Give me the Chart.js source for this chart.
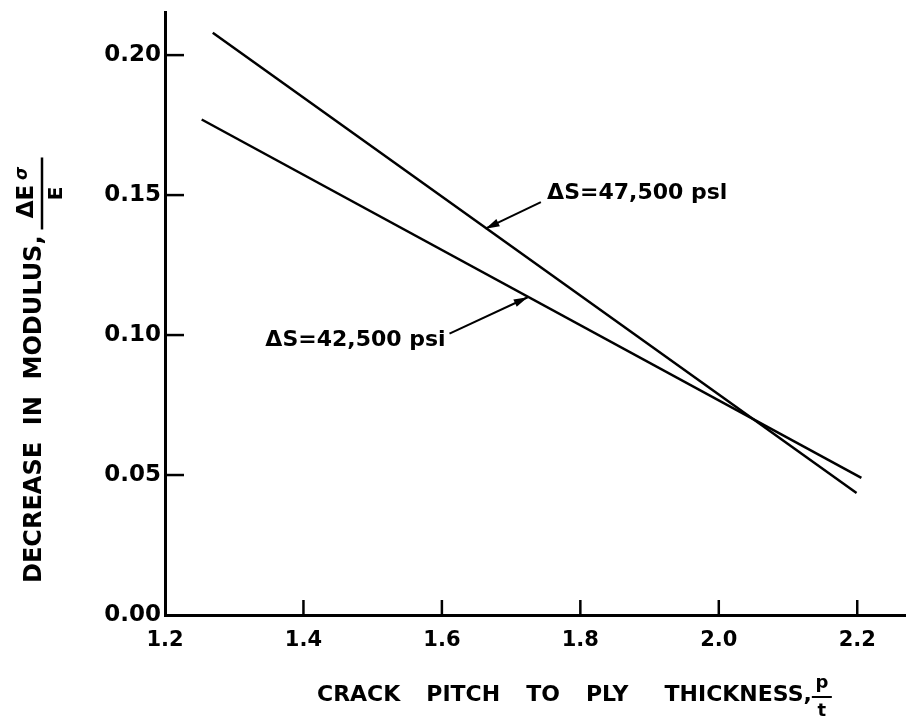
<!DOCTYPE html>
<html>
<head>
<meta charset="utf-8">
<script src="https://cdn.jsdelivr.net/npm/chart.js@4.4.1/dist/chart.umd.min.js"></script>
<style>
  html, body { margin: 0; padding: 0; background: #fff; }
  #wrap { width: 909px; height: 723px; }
</style>
</head>
<body>
<div id="wrap"><canvas id="chart"></canvas></div>
<script>
// values
const xTicks = [1.2, 1.4, 1.6, 1.8, 2.0, 2.2];
const yTicks = [0.00, 0.05, 0.10, 0.15, 0.20];
const xTickLabels = ["1.2", "1.4", "1.6", "1.8", "2.0", "2.2"];
const yTickLabels = ["0.00", "0.05", "0.10", "0.15", "0.20"];

const s47500 = [{ x: 1.269, y: 0.208 }, { x: 2.199, y: 0.0436 }];
const s42500 = [{ x: 1.253, y: 0.177 }, { x: 2.206, y: 0.049 }];

// annotation text + leader (data coordinates)
const notes = [
  { text: "\u0394S=47,500 psl", tx: 1.752, ty: 0.1505, from: [1.743, 0.1475], to: [1.663, 0.138] },
  { text: "\u0394S=42,500 psi", tx: 1.345, ty: 0.098, from: [1.611, 0.1005], to: [1.724, 0.1135] }
];
const xTitleWords = ["CRACK", "PITCH", "TO", "PLY", "THICKNESS,"];

const FONT = "'DejaVu Sans', Verdana, sans-serif";

const drawExtras = {
  id: "drawExtras",
  afterDraw(chart) {
    const ctx = chart.ctx;
    const xs = chart.scales.x, ys = chart.scales.y;
    const area = chart.chartArea;
    ctx.save();
    ctx.strokeStyle = "#000";
    ctx.fillStyle = "#000";
    ctx.lineWidth = 2.5;

    // inward tick marks
    xTicks.forEach(v => {
      if (v === xTicks[0]) return;
      const px = xs.getPixelForValue(v);
      ctx.beginPath();
      ctx.moveTo(px, area.bottom);
      ctx.lineTo(px, area.bottom - 15);
      ctx.stroke();
    });
    yTicks.forEach(v => {
      if (v === yTicks[0]) return;
      const py = ys.getPixelForValue(v);
      ctx.beginPath();
      ctx.moveTo(area.left, py);
      ctx.lineTo(area.left + 19, py);
      ctx.stroke();
    });

    // annotations
    ctx.font = "bold 22px " + FONT;
    ctx.textBaseline = "middle";
    ctx.textAlign = "left";
    notes.forEach(n => {
      ctx.fillText(n.text, xs.getPixelForValue(n.tx), ys.getPixelForValue(n.ty));
      const x0 = xs.getPixelForValue(n.from[0]), y0 = ys.getPixelForValue(n.from[1]);
      const x1 = xs.getPixelForValue(n.to[0]), y1 = ys.getPixelForValue(n.to[1]);
      ctx.lineWidth = 2;
      ctx.beginPath();
      ctx.moveTo(x0, y0);
      ctx.lineTo(x1, y1);
      ctx.stroke();
      const a = Math.atan2(y1 - y0, x1 - x0);
      ctx.beginPath();
      ctx.moveTo(x1, y1);
      ctx.lineTo(x1 - 14 * Math.cos(a) + 4 * Math.sin(a), y1 - 14 * Math.sin(a) - 4 * Math.cos(a));
      ctx.lineTo(x1 - 14 * Math.cos(a) - 4 * Math.sin(a), y1 - 14 * Math.sin(a) + 4 * Math.cos(a));
      ctx.closePath();
      ctx.fill();
    });

    // x axis title, words spread out, then p/t fraction
    ctx.font = "bold 22px " + FONT;
    ctx.textBaseline = "alphabetic";
    ctx.textAlign = "left";
    let wx = 317;
    xTitleWords.forEach((w, i) => {
      ctx.fillText(w, wx, 701);
      wx += ctx.measureText(w).width + (i === 3 ? 36 : 26);
    });
    const fx = wx - 26 + 10;
    ctx.textAlign = "center";
    ctx.font = "bold 18px " + FONT;
    ctx.fillText("p", fx, 688);
    ctx.fillText("t", fx, 716);
    ctx.lineWidth = 2;
    ctx.beginPath();
    ctx.moveTo(fx - 10, 697);
    ctx.lineTo(fx + 10, 697);
    ctx.stroke();

    // y axis title, rotated
    ctx.save();
    ctx.translate(35, 583);
    ctx.rotate(-Math.PI / 2);
    ctx.font = "bold 24px " + FONT;
    ctx.textAlign = "left";
    ctx.textBaseline = "middle";
    const yt = "DECREASE  IN  MODULUS,";
    ctx.fillText(yt, 0, 0);
    const yw = ctx.measureText(yt).width;
    const cx = yw + 42;
    ctx.font = "bold 23px " + FONT;
    ctx.textAlign = "center";
    ctx.fillText("\u0394E", cx - 8, -8);
    ctx.font = "italic bold 17px " + FONT;
    ctx.fillText("\u03c3", cx + 20, -12);
    ctx.font = "bold 20px " + FONT;
    ctx.fillText("E", cx, 22);
    ctx.lineWidth = 2.5;
    ctx.beginPath();
    ctx.moveTo(cx - 36, 7);
    ctx.lineTo(cx + 36, 7);
    ctx.stroke();
    ctx.restore();

    ctx.restore();
  }
};

const lineStyle = { borderColor: "#000", borderWidth: 2.5, pointRadius: 0, fill: false, showLine: true };

new Chart(document.getElementById("chart"), {
  type: "scatter",
  data: {
    datasets: [
      Object.assign({ label: "\u0394S=47,500 psi", data: s47500 }, lineStyle),
      Object.assign({ label: "\u0394S=42,500 psi", data: s42500 }, lineStyle)
    ]
  },
  options: {
    responsive: true,
    maintainAspectRatio: false,
    animation: false,
    layout: { padding: { top: 12, right: 4, left: 0, bottom: 0 } },
    plugins: { legend: { display: false }, tooltip: { enabled: false } },
    scales: {
      x: {
        type: "linear",
        min: 1.2,
        max: 2.269,
        afterBuildTicks: s => { s.ticks = xTicks.map(v => ({ value: v })); },
        afterFit: s => { s.height = 108; },
        grid: { display: false },
        border: { display: true, color: "#000", width: 3 },
        ticks: {
          color: "#000",
          padding: 5,
          font: { family: FONT, size: 21, weight: "bold" },
          maxRotation: 0,
          callback: v => xTickLabels[xTicks.findIndex(t => Math.abs(t - v) < 1e-6)] || ""
        }
      },
      y: {
        type: "linear",
        min: 0,
        max: 0.2154,
        afterBuildTicks: s => { s.ticks = yTicks.map(v => ({ value: v })); },
        afterFit: s => { s.width = 165; },
        grid: { display: false },
        border: { display: true, color: "#000", width: 3 },
        ticks: {
          color: "#000",
          padding: -4,
          font: { family: FONT, size: 23, weight: "bold" },
          callback: v => yTickLabels[yTicks.findIndex(t => Math.abs(t - v) < 1e-6)] || ""
        }
      }
    }
  },
  plugins: [drawExtras]
});
</script>
</body>
</html>
